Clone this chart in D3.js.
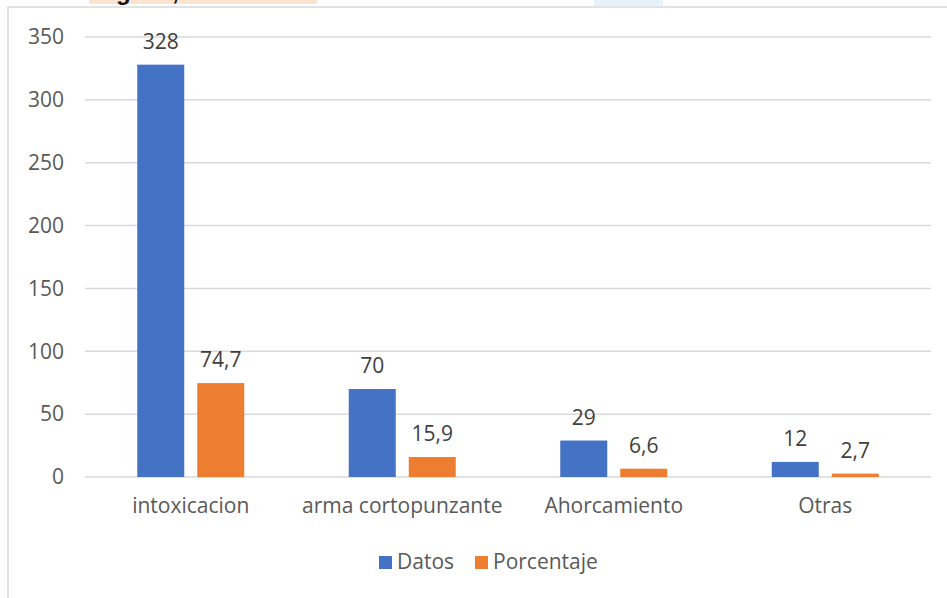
<!DOCTYPE html>
<html>
<head>
<meta charset="utf-8">
<script src="https://cdn.jsdelivr.net/npm/d3@7"></script>
<style>
  body { margin: 0; background: #fff; }
  svg { display: block; }
</style>
</head>
<body>
<svg id="chart"></svg>
<script>
// Data
const categories = ["intoxicacion", "arma cortopunzante", "Ahorcamiento", "Otras"]
const seriesNames = ["Datos", "Porcentaje"]
const datos = [328, 70, 29, 12]
const porcentaje = [74.7, 15.9, 6.6, 2.7]
const yTicks = [0, 50, 100, 150, 200, 250, 300, 350]
const titleText = "en Cartagena, hasta semana 3 del año 2020"

const colors = { Datos: "#4472c4", Porcentaje: "#ed7d31" }

const W = 947, H = 598
const svg = d3.select("#chart").attr("width", W).attr("height", H)

// Cut-off title strip at the very top
svg.append("rect").attr("x", 89).attr("y", 0).attr("width", 228).attr("height", 4).attr("fill", "#fde4d0")
svg.append("rect").attr("x", 594).attr("y", 0).attr("width", 69).attr("height", 6).attr("fill", "#e5f2f9")
svg.append("text")
    .attr("x", 20).attr("y", -0.5)
    .attr("font-family", "Liberation Sans, Arial, sans-serif")
    .attr("font-weight", "bold")
    .attr("font-size", "24px")
    .attr("fill", "#111")
    .text(titleText)

// Chart frame (left and top edges visible)
svg.append("rect").attr("x", 8).attr("y", 7).attr("width", W).attr("height", H)
    .attr("fill", "#fff").attr("stroke", "#d9d9d9").attr("stroke-width", 1.5)

const plot = { left: 85, right: 931, top: 37, bottom: 477 }

// Scales
const x = d3.scaleBand()
    .domain(categories)
    .range([plot.left, plot.right])
    .paddingInner(104.5 / 211.5)
    .paddingOuter(52.25 / 211.5)

const xSub = d3.scaleBand()
    .domain(seriesNames)
    .range([0, x.bandwidth()])
    .paddingInner(13 / 60)

const y = d3.scaleLinear().domain([0, 350]).range([plot.bottom, plot.top])

const font = "'Open Sans', 'Segoe UI', sans-serif"
const fontSize = "21px"

// Gridlines
svg.append("g")
    .selectAll("line")
    .data(yTicks)
    .enter()
    .append("line")
    .attr("x1", plot.left)
    .attr("x2", plot.right)
    .attr("y1", d => y(d))
    .attr("y2", d => y(d))
    .attr("stroke", "#d9d9d9")
    .attr("stroke-width", 1.5)

// Y axis labels
const yAxis = d3.axisLeft(y).tickValues(yTicks).tickSize(0).tickPadding(0)
svg.append("g")
    .attr("transform", "translate(64,0)")
    .call(yAxis)
    .call(g => g.select(".domain").remove())
    .selectAll("text")
    .attr("font-family", font)
    .attr("font-size", fontSize)
    .attr("fill", "#595959")

// X axis labels
const xAxis = d3.axisBottom(x).tickSize(0).tickPadding(0)
svg.append("g")
    .attr("transform", "translate(0," + (plot.bottom + 21) + ")")
    .call(xAxis)
    .call(g => g.select(".domain").remove())
    .selectAll("text")
    .attr("font-family", font)
    .attr("font-size", fontSize)
    .attr("fill", "#595959")

// Bars
const rows = categories.map((c, i) => ({
    cat: c,
    values: [
        { key: "Datos", value: datos[i] },
        { key: "Porcentaje", value: porcentaje[i] }
    ]
}))

const groups = svg.selectAll("g.group")
    .data(rows)
    .enter()
    .append("g")
    .attr("class", "group")
    .attr("transform", d => "translate(" + x(d.cat) + ",0)")

groups.selectAll("rect")
    .data(d => d.values)
    .enter()
    .append("rect")
    .attr("x", d => xSub(d.key))
    .attr("y", d => y(d.value))
    .attr("width", xSub.bandwidth())
    .attr("height", d => y(0) - y(d.value))
    .attr("fill", d => colors[d.key])

// Data labels
const fmt = v => Number.isInteger(v) ? String(v) : String(v).replace(".", ",")
groups.selectAll("text")
    .data(d => d.values)
    .enter()
    .append("text")
    .attr("x", d => xSub(d.key) + xSub.bandwidth() / 2)
    .attr("y", d => y(d.value) - 16)
    .attr("text-anchor", "middle")
    .attr("font-family", font)
    .attr("font-size", fontSize)
    .attr("fill", "#404040")
    .text(d => fmt(d.value))

// Legend
const legend = svg.append("g").attr("transform", "translate(379,562)")
const legendX = [0, 96]
seriesNames.forEach((name, i) => {
    const g = legend.append("g").attr("transform", "translate(" + legendX[i] + ",0)")
    g.append("rect").attr("x", 0).attr("y", -6).attr("width", 13).attr("height", 13).attr("fill", colors[name])
    g.append("text")
        .attr("x", 18).attr("y", 0).attr("dy", "0.35em")
        .attr("font-family", font)
        .attr("font-size", fontSize)
        .attr("fill", "#595959")
        .text(name)
})
</script>
</body>
</html>
